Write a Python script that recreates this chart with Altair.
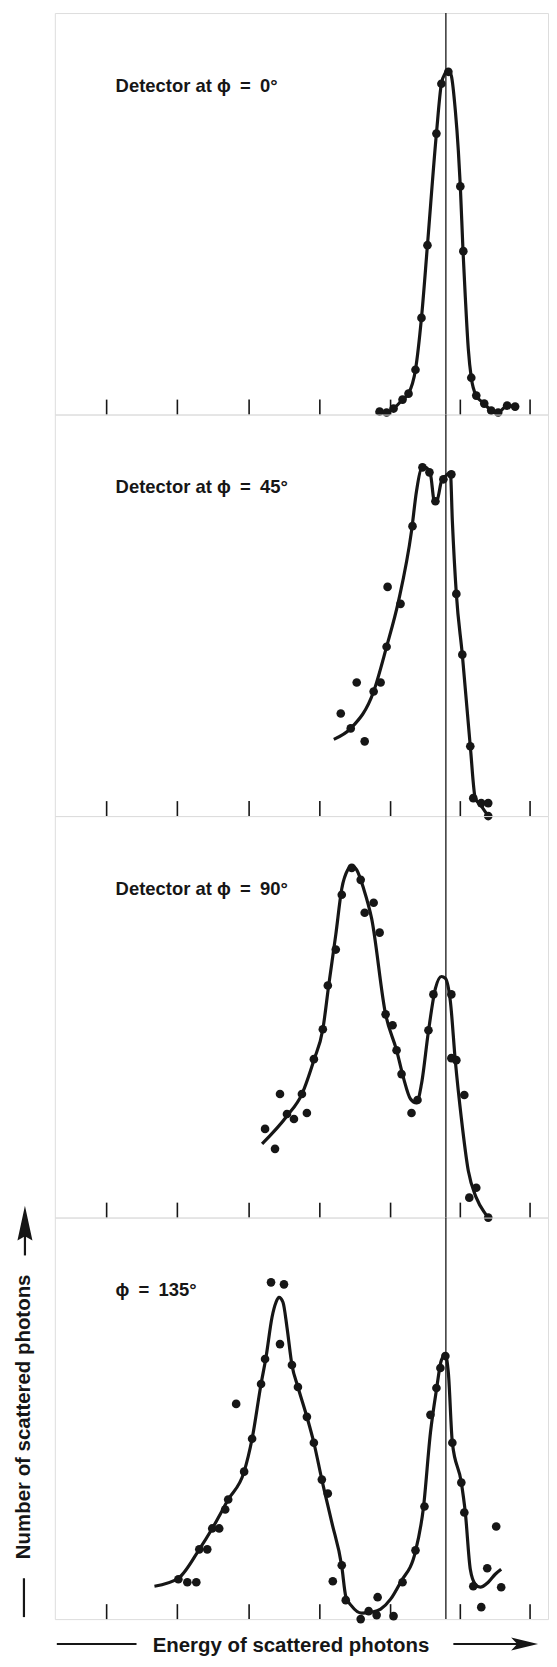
import altair as alt
import pandas as pd

# Energy (arbitrary units) vs number of scattered photons (arbitrary units)
# ---- Panel 1: phi = 0 deg
p1_dot_x = [326, 333, 340, 349, 355, 362, 368, 374, 383, 388, 395, 407, 410, 418, 423, 431, 438, 445, 454, 462]
p1_dot_y = [3, 2, 6, 15, 21, 45, 97, 170, 282, 332, 344, 229, 164, 37, 19, 11, 4, 2, 9, 8]
p1_fit_x = [322, 333, 340, 349, 355, 362, 368, 374, 383, 388, 392, 395, 398, 402, 405, 407, 409.7, 412, 415, 418, 423, 431, 438, 445, 454, 462]
p1_fit_y = [2, 2, 6, 15, 21, 45, 97, 170, 282, 332, 343, 346, 340, 305, 265, 229, 164, 118, 66, 37, 19, 11, 4, 2, 9, 8]

# ---- Panel 2: phi = 45 deg
p2_dot_x = [287, 297, 303, 311, 320, 327, 333, 334, 347, 359, 369, 376, 382, 390, 398, 403, 409, 417, 420, 428, 435, 435]
p2_dot_y = [103, 88, 134, 75, 125, 134, 170, 230, 213, 291, 350, 345, 316, 338, 343, 223, 162, 70, 18, 13, 13, 0]
p2_fit_x = [280, 297, 320, 333, 345, 358, 363, 368, 372, 377, 381, 384, 388, 393, 397, 399, 403, 409, 417, 422, 428, 435]
p2_fit_y = [77, 88, 125, 170, 216, 286, 326, 349, 350, 343, 316, 318, 336, 342, 345, 296, 223, 162, 70, 18, 10, 0]

# ---- Panel 3: phi = 90 deg
p3_dot_x = [211, 221, 226, 233, 240, 248, 253, 260, 269, 274, 282, 288, 298, 307, 311, 320, 326, 332, 339, 343,
            348, 358, 364, 375, 380, 398, 398, 403, 411, 416, 423, 435]
p3_dot_y = [89, 69, 124, 104, 99, 124, 105, 159, 189, 233, 269, 324, 351, 339, 306, 316, 286, 204, 193, 168,
            144, 105, 118, 188, 224, 224, 160, 158, 123, 20, 30, 0]
p3_fit_x = [208, 233, 248, 260, 269, 275, 282, 288, 294, 298, 303, 310, 318, 332, 343, 350, 357, 363, 368, 375,
            382, 388, 392, 397, 402, 408, 415, 423, 432, 435]
p3_fit_y = [74, 102, 124, 158, 189, 234, 284, 330, 349, 353, 349, 330, 300, 204, 168, 140, 119, 115, 134, 187,
            230, 242, 240, 217, 157, 100, 47, 20, 4, 0]

# ---- Panel 4: phi = 135 deg
p4_dot_x = [124, 133, 142, 145, 153, 158, 165, 171, 174, 190, 182, 198, 207, 211, 217, 230, 226, 238, 244, 253,
            260, 268, 274, 288, 279, 292, 307, 315, 324, 323, 340, 349, 362, 371, 377, 383, 387, 392, 399, 408,
            411, 420, 428, 434, 443, 448]
p4_dot_y = [40, 37, 37, 70, 70, 91, 91, 110, 120, 148, 216, 181, 236, 261, 338, 336, 276, 255, 233, 203,
            177, 140, 126, 54, 38, 19, 0, 8, 22, 4, 3, 37, 69, 113, 205, 232, 252, 264, 177, 137,
            107, 33, 12, 51, 93, 32]
p4_fit_x = [100, 124, 145, 158, 174, 190, 198, 207, 212, 218, 222, 225, 229, 233, 238, 244, 253, 260, 268, 278,
            288, 292, 298, 308, 318, 327, 337, 347, 362, 370, 377, 383, 388, 392, 395, 399, 408, 412, 417, 422,
            427, 435, 442, 448]
p4_fit_y = [33, 41, 70, 91, 120, 148, 181, 236, 263, 303, 318, 323, 318, 293, 255, 233, 203, 177, 140, 97,
            53, 23, 13, 6, 7, 10, 20, 37, 68, 112, 187, 230, 260, 265, 247, 177, 137, 107, 50, 35,
            32, 37, 45, 50]

tick_x = [52, 123, 195, 266, 337, 407, 477]
tick_len = 15
ref_energy = 392.5
labels = ["Detector at \u03d5\u2002=\u20020\u00b0", "Detector at \u03d5\u2002=\u200245\u00b0",
          "Detector at \u03d5\u2002=\u200290\u00b0", "\u03d5\u2002=\u2002135\u00b0"]
label_pos = (61, 330)
y_title = "Number of scattered photons"
x_title = "Energy of scattered photons"

W, H = 495, 403
X_MAX, Y_MAX = 495, 403
FONT = "Liberation Sans"
INK = "#161616"

XS = alt.Scale(domain=[0, X_MAX], nice=False, zero=False)
YS = alt.Scale(domain=[0, Y_MAX], nice=False, zero=False)


def xq(f="e"):
    return alt.X(f"{f}:Q", scale=XS, axis=None)


def yq(f="n"):
    return alt.Y(f"{f}:Q", scale=YS, axis=None)


def panel(dx, dy, fx, fy, label, extra=()):
    dots = pd.DataFrame({"e": dx, "n": dy})
    fit = pd.DataFrame({"e": fx, "n": fy})
    ticks = pd.DataFrame({"e": tick_x, "n0": [0] * len(tick_x), "n1": [tick_len] * len(tick_x)})
    refd = pd.DataFrame({"e": [ref_energy], "n0": [0], "n1": [Y_MAX]})
    lab = pd.DataFrame({"e": [label_pos[0]], "n": [label_pos[1]], "t": [label]})

    tk = alt.Chart(ticks).mark_rule(color=INK, strokeWidth=1.6).encode(x=xq(), y=yq("n0"), y2="n1:Q")
    ref = alt.Chart(refd).mark_rule(color=INK, strokeWidth=1.3).encode(x=xq(), y=yq("n0"), y2="n1:Q")
    line = alt.Chart(fit).mark_line(color=INK, strokeWidth=3.2, interpolate="monotone").encode(x=xq(), y=yq())
    pts = alt.Chart(dots).mark_circle(color=INK, size=75, opacity=1).encode(x=xq(), y=yq())
    txt = alt.Chart(lab).mark_text(align="left", baseline="middle", font=FONT, fontSize=18.5,
                                   fontWeight="bold", color=INK).encode(x=xq(), y=yq(), text="t:N")
    return alt.layer(tk, ref, line, pts, txt, *extra).properties(width=W, height=H)


one = pd.DataFrame({"a": [0]})
extras = [
    alt.Chart(one).mark_text(text=y_title, angle=270, font=FONT, fontSize=20.5, fontWeight="bold", color=INK,
                             align="center", baseline="middle").encode(x=alt.value(-31), y=alt.value(200)),
    alt.Chart(one).mark_rule(color=INK, strokeWidth=2.2).encode(
        x=alt.value(-31), y=alt.value(362), y2=alt.value(401)),
    alt.Chart(one).mark_rule(color=INK, strokeWidth=2.2).encode(
        x=alt.value(-30), y=alt.value(18), y2=alt.value(38)),
    alt.Chart(one).mark_point(shape="M0,-1L0.43,1L0,0.75L-0.43,1Z", filled=True, size=1225, opacity=1,
                              color=INK, strokeWidth=0).encode(x=alt.value(-30), y=alt.value(5.5)),
    alt.Chart(one).mark_text(text=x_title, font=FONT, fontSize=20.5, fontWeight="bold", color=INK,
                             align="center", baseline="middle").encode(x=alt.value(237), y=alt.value(430)),
    alt.Chart(one).mark_rule(color=INK, strokeWidth=2.2).encode(
        x=alt.value(2), x2=alt.value(82), y=alt.value(428)),
    alt.Chart(one).mark_rule(color=INK, strokeWidth=2.2).encode(
        x=alt.value(400), x2=alt.value(466), y=alt.value(428)),
    alt.Chart(one).mark_point(shape="M1,0L-1,-0.48L-0.55,0L-1,0.48Z", filled=True, size=729, opacity=1,
                              color=INK, strokeWidth=0).encode(x=alt.value(471.5), y=alt.value(428)),
]

c1 = panel(p1_dot_x, p1_dot_y, p1_fit_x, p1_fit_y, labels[0])
c2 = panel(p2_dot_x, p2_dot_y, p2_fit_x, p2_fit_y, labels[1])
c3 = panel(p3_dot_x, p3_dot_y, p3_fit_x, p3_fit_y, labels[2])
c4 = panel(p4_dot_x, p4_dot_y, p4_fit_x, p4_fit_y, labels[3], extras)

chart = alt.vconcat(c1, c2, c3, c4, spacing=0, bounds="flush").properties(
    padding={"left": 5, "top": 0, "right": 0, "bottom": 0}
).configure_view(stroke=INK, strokeWidth=1.8).configure(background="white")

chart.save("out.html", embed_options={"renderer": "svg", "actions": False})
